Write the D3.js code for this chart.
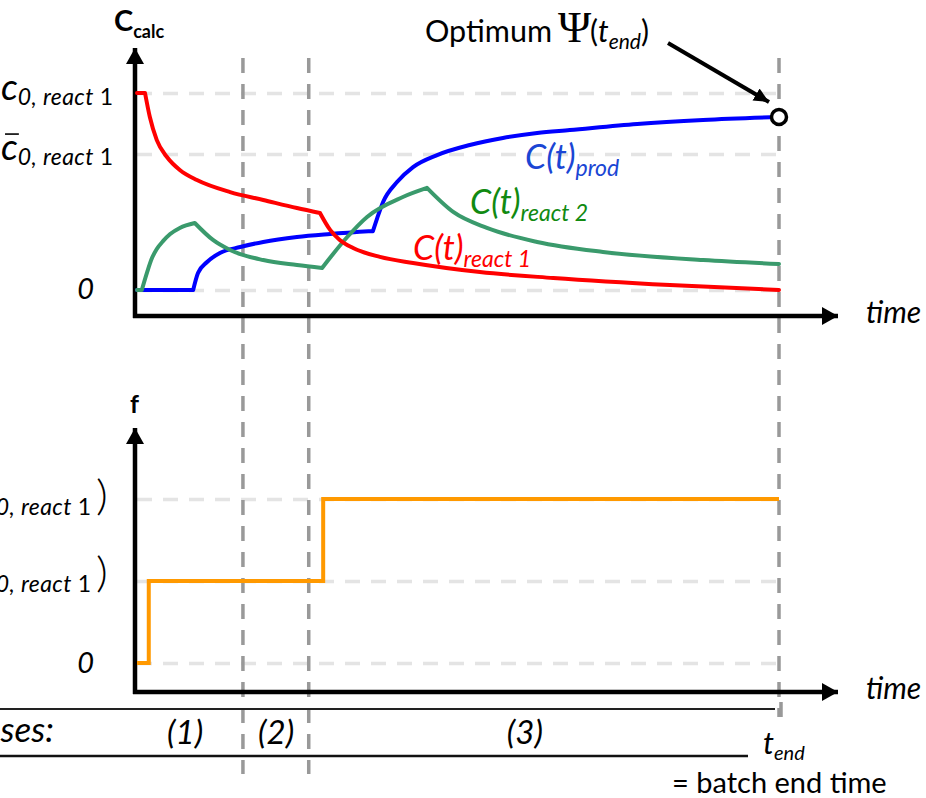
<!DOCTYPE html>
<html>
<head>
<meta charset="utf-8">
<script src="https://cdn.jsdelivr.net/npm/d3@7"></script>
<style>
  html, body { margin: 0; padding: 0; background: #fff; overflow: hidden; }
  svg { display: block; }
  text { font-family: Lato, "Open Sans", sans-serif; }
</style>
</head>
<body>
<div id="vis"></div>
<script>
// time axis: 0 .. t_end (=120), concentrations relative to c0,react1
var tRed   = [0, 1.5, 2.4, 3.7, 5.6, 8.0, 11.2, 17.4, 23.6, 29.9, 34.2, 36.1, 37.9, 40.4, 45.4, 51.6, 64.1, 77.8, 99.6, 120];
var cRed   = [1, 1, 0.878, 0.761, 0.675, 0.609, 0.558, 0.497, 0.457, 0.416, 0.391, 0.305, 0.254, 0.213, 0.168, 0.137, 0.091, 0.061, 0.025, 0];
var redCorners = [1, 10];

var tGreen = [0, 0.9, 1.9, 2.8, 3.7, 4.9, 6.2, 8.0, 10.8, 14.2, 17.4, 23.6, 29.9, 34.6, 39.3, 43.0, 49.7, 54.2, 59.1, 65.4, 74.8, 87.1, 105.8, 120];
var cGreen = [0, 0, 0.091, 0.162, 0.208, 0.249, 0.284, 0.315, 0.340, 0.254, 0.203, 0.152, 0.127, 0.112, 0.269, 0.371, 0.472, 0.518, 0.396, 0.315, 0.244, 0.193, 0.152, 0.132];
var greenCorners = [1, 8, 13, 17];

var tProd  = [0, 10.5, 11.4, 13.1, 15.5, 19.3, 23.6, 29.9, 36.1, 44.1, 44.9, 46.0, 48.6, 51.6, 56.1, 62.2, 68.4, 74.8, 80.9, 93.5, 105.8, 120];
var cProd  = [0, 0, 0.086, 0.142, 0.188, 0.218, 0.244, 0.269, 0.284, 0.299, 0.365, 0.447, 0.548, 0.624, 0.685, 0.736, 0.772, 0.797, 0.812, 0.843, 0.863, 0.878];
var prodCorners = [1, 9];

// feed profile f (step function)
var tFeed = [0, 2.2, 34.8, 120];
var fFeed = [0, 1, 2, 2];

var concTicks = [0, 0.69, 1];
var feedTicks = [0, 1, 2];

var tEnd = 120;
var phaseBounds = [19.8, 32.1];
var phaseNames = ["(1)", "(2)", "(3)"];
var phaseMid = [9, 26, 72.5];

var W = 926, H = 798;
var svg = d3.select("#vis").append("svg").attr("width", W).attr("height", H);

var x = d3.scaleLinear().domain([0, tEnd]).range([137, 779]);
var yC = d3.scaleLinear().domain([0, 1]).range([290, 93]);
var yF = d3.scaleLinear().domain([0, 2]).range([663, 499]);

var axisX = 135, topBase = 316, botBase = 692;
var gridW = x(tEnd) - x(0);

// arrow markers
var defs = svg.append("defs");
defs.append("marker").attr("id", "ah").attr("markerUnits", "userSpaceOnUse")
    .attr("markerWidth", 17).attr("markerHeight", 18).attr("refX", 16).attr("refY", 9)
    .attr("orient", "auto")
  .append("path").attr("d", "M0,0 L16,9 L0,18 Z").attr("fill", "#000");
defs.append("marker").attr("id", "ah2").attr("markerUnits", "userSpaceOnUse")
    .attr("markerWidth", 16).attr("markerHeight", 16).attr("refX", 15).attr("refY", 8)
    .attr("orient", "auto")
  .append("path").attr("d", "M0,1 L15,8 L0,15 Z").attr("fill", "#000");

// gridlines
function grid(scale, ticks) {
    var g = svg.append("g")
        .attr("transform", "translate(" + x(0) + ",0)")
        .call(d3.axisLeft(scale).tickValues(ticks).tickSize(-gridW).tickFormat(""));
    g.select(".domain").remove();
    g.selectAll(".tick line")
        .attr("stroke", "#e4e4e4")
        .attr("stroke-width", 3.5)
        .attr("stroke-dasharray", "15,11");
}
grid(yC, concTicks);
grid(yF, feedTicks);

// vertical phase lines
svg.selectAll("line.phase")
    .data(phaseBounds)
    .enter().append("line")
    .attr("class", "phase")
    .attr("x1", function (d) { return x(d); })
    .attr("x2", function (d) { return x(d); })
    .attr("y1", 58).attr("y2", 774)
    .attr("stroke", "#999").attr("stroke-width", 3.5).attr("stroke-dasharray", "15,11");
svg.append("line")
    .attr("x1", x(tEnd)).attr("x2", x(tEnd))
    .attr("y1", 58).attr("y2", 717)
    .attr("stroke", "#999").attr("stroke-width", 3.5).attr("stroke-dasharray", "15,11");

// axes (both panels)
[[topBase, 48], [botBase, 428]].forEach(function (a) {
    svg.append("line")
        .attr("x1", axisX).attr("x2", axisX)
        .attr("y1", a[0] + 2).attr("y2", a[1])
        .attr("stroke", "#000").attr("stroke-width", 4.5)
        .attr("marker-end", "url(#ah)");
    svg.append("line")
        .attr("x1", axisX - 2).attr("x2", 838)
        .attr("y1", a[0]).attr("y2", a[0])
        .attr("stroke", "#000").attr("stroke-width", 4.5)
        .attr("marker-end", "url(#ah)");
    svg.append("text")
        .attr("x", 866).attr("y", a[0] + 7)
        .attr("font-size", 30).attr("font-style", "italic")
        .text("time");
});

// concentration curves, split at the corners
function cornerPath(ts, cs, corners, yScale) {
    var pts = ts.map(function (t, i) { return [t, cs[i]]; });
    var cuts = [0].concat(corners, [pts.length - 1]);
    var line = d3.line()
        .x(function (d) { return x(d[0]); })
        .y(function (d) { return yScale(d[1]); })
        .curve(d3.curveMonotoneX);
    var s = "";
    for (var i = 0; i < cuts.length - 1; i++) s += line(pts.slice(cuts[i], cuts[i + 1] + 1));
    return s;
}

var series = [
    { t: tProd, c: cProd, k: prodCorners, color: "#0000ff" },
    { t: tGreen, c: cGreen, k: greenCorners, color: "#3a9a6c" },
    { t: tRed, c: cRed, k: redCorners, color: "#ff0000" }
];
series.forEach(function (s) {
    svg.append("path")
        .attr("d", cornerPath(s.t, s.c, s.k, yC))
        .attr("fill", "none")
        .attr("stroke", s.color)
        .attr("stroke-width", 4)
        .attr("stroke-linejoin", "round")
        .attr("stroke-linecap", "round");
});

// feed step
svg.append("path")
    .datum(tFeed.map(function (t, i) { return [t, fFeed[i]]; }))
    .attr("d", d3.line()
        .x(function (d) { return x(d[0]); })
        .y(function (d) { return yF(d[1]); })
        .curve(d3.curveStepAfter))
    .attr("fill", "none")
    .attr("stroke", "#ff9900")
    .attr("stroke-width", 4);

// optimum marker
var endX = x(tEnd), endY = yC(cProd[cProd.length - 1]);
svg.append("line")
    .attr("x1", 668).attr("y1", 43)
    .attr("x2", endX - 10).attr("y2", endY - 15)
    .attr("stroke", "#000").attr("stroke-width", 4)
    .attr("marker-end", "url(#ah2)");
svg.append("circle")
    .attr("cx", endX).attr("cy", endY).attr("r", 7.5)
    .attr("fill", "#fff").attr("stroke", "#000").attr("stroke-width", 3.5);

var opt = svg.append("text").attr("x", 425).attr("y", 42).attr("font-size", 30.5);
opt.append("tspan").text("Optimum");
opt.append("tspan").attr("x", 558).attr("font-family", "'Liberation Serif', serif").attr("font-size", 45).text("Ψ");
opt.append("tspan").attr("x", 590).attr("font-size", 30).text("(");
opt.append("tspan").attr("font-style", "italic").attr("font-size", 30).text("t");
opt.append("tspan").attr("font-style", "italic").attr("font-size", 21).attr("dy", 7).text("end");
opt.append("tspan").attr("font-size", 30).attr("dy", -7).text(")");

// axis titles
var cc = svg.append("text").attr("x", 114).attr("y", 31).attr("font-weight", "bold");
cc.append("tspan").attr("font-size", 29).text("C");
cc.append("tspan").attr("font-size", 18).attr("dy", 7).text("calc");
svg.append("text").attr("x", 130).attr("y", 413)
    .attr("font-weight", "bold").attr("font-size", 25).text("f");

// c0 labels; prefix "f(" for the feed panel, bar for the mean value
function cLabel(lx, y, prefix, bar) {
    var t = svg.append("text").attr("x", lx).attr("y", y)
        .attr("text-anchor", "end").attr("font-style", "italic");
    if (prefix) t.append("tspan").attr("font-size", 36).attr("font-style", "normal").text(prefix);
    t.append("tspan").attr("font-size", 37).text("c");
    t.append("tspan").attr("font-size", 23).attr("letter-spacing", 0.4).attr("dy", 5).text("0, react");
    t.append("tspan").attr("font-size", 23).attr("font-style", "normal").text(" 1");
    if (bar) {
        var ext = t.node().getExtentOfChar(prefix ? prefix.length : 0);
        svg.append("line")
            .attr("x1", ext.x + 4).attr("x2", ext.x + ext.width + 1)
            .attr("y1", y - 26).attr("y2", y - 26)
            .attr("stroke", "#000").attr("stroke-width", 1.6);
    }
}
cLabel(113, yC(concTicks[2]) + 7, null, false);
cLabel(113, yC(concTicks[1]) + 6, null, true);
svg.append("text").attr("x", 94).attr("y", yC(concTicks[0]) + 9)
    .attr("text-anchor", "end").attr("font-style", "italic").attr("font-size", 29).text("0");

// feed labels (left of bottom panel), cut off at the left edge as in the original
[[feedTicks[2], 11, false], [feedTicks[1], 6, true]].forEach(function (d) {
    var yy = yF(d[0]) + d[1];
    cLabel(91, yy, "f(", d[2]);
    svg.append("text").attr("x", 96).attr("y", yy)
        .attr("font-size", 46).attr("font-weight", 300)
        .attr("transform", "translate(0," + (yy * 0.1) + ") scale(1,0.9)")
        .text(")");
});
svg.append("text").attr("x", 94).attr("y", yF(feedTicks[0]) + 10)
    .attr("text-anchor", "end").attr("font-style", "italic").attr("font-size", 29).text("0");

// curve labels
function curveLabel(tx, ty, color, sub) {
    var t = svg.append("text").attr("x", tx).attr("y", ty)
        .attr("font-style", "italic").attr("fill", color);
    t.append("tspan").attr("font-size", 34).text("C(t)");
    t.append("tspan").attr("font-size", 23).attr("dy", 7).text(sub);
}
curveLabel(525, 169, "#1a46d4", "prod");
curveLabel(470, 214, "#118a11", "react 2");
curveLabel(413, 260, "#ff0000", "react 1");

// phases strip
svg.append("line").attr("x1", 0).attr("x2", x(tEnd) - 4).attr("y1", 709).attr("y2", 709)
    .attr("stroke", "#222").attr("stroke-width", 2);
svg.append("line").attr("x1", 0).attr("x2", 748).attr("y1", 756).attr("y2", 756)
    .attr("stroke", "#111").attr("stroke-width", 2.5);
svg.append("line").attr("x1", x(tEnd) + 2).attr("x2", x(tEnd) + 2).attr("y1", 702).attr("y2", 717)
    .attr("stroke", "#999").attr("stroke-width", 3.5);
svg.append("text").attr("x", 54).attr("y", 742)
    .attr("text-anchor", "end").attr("font-style", "italic").attr("font-size", 35).text("Phases:");
svg.selectAll("text.ph")
    .data(phaseNames)
    .enter().append("text")
    .attr("class", "ph")
    .attr("x", function (d, i) { return x(phaseMid[i]); })
    .attr("y", 744)
    .attr("text-anchor", "middle").attr("font-style", "italic").attr("font-size", 33)
    .text(function (d) { return d; });

var te = svg.append("text").attr("x", 763).attr("y", 754).attr("font-style", "italic");
te.append("tspan").attr("font-size", 31).text("t");
te.append("tspan").attr("font-size", 20).attr("dy", 6).text("end");
svg.append("text").attr("x", 672).attr("y", 793).attr("font-size", 29).text("= batch end time");
</script>
</body>
</html>
